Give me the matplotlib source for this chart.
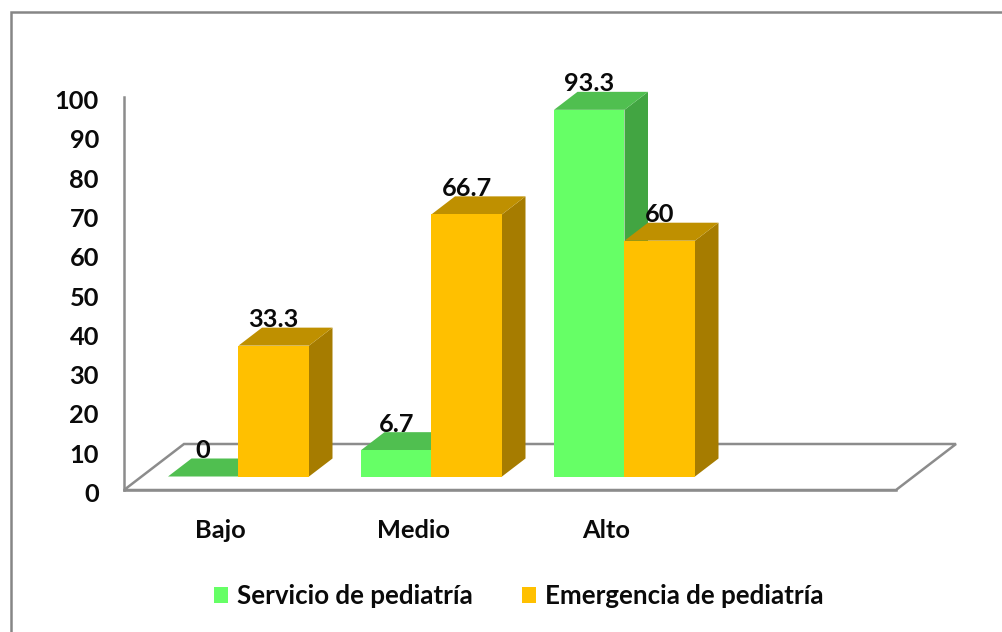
import matplotlib
matplotlib.use('Agg')
import matplotlib.pyplot as plt
from matplotlib.patches import Polygon, Rectangle
from matplotlib.transforms import ScaledTranslation

# Values
categories = ['Bajo', 'Medio', 'Alto', '']
servicio = [0, 6.7, 93.3]
emergencia = [33.3, 66.7, 60]
value_ticks = list(range(0, 101, 10))

plt.rcParams['font.family'] = ['Lato', 'DejaVu Sans']
plt.rcParams['font.weight'] = 'bold'

W, H = 1003, 632
fig = plt.figure(figsize=(W / 100, H / 100), dpi=100, facecolor='white')

# Axes box is the front of the Excel style 3D chart
left, right, top, bottom = 124, 896, 97, 490
ax = fig.add_axes([left / W, 1 - bottom / H, (right - left) / W, (bottom - top) / H])
ax.set_xlim(0, 4)
ax.set_ylim(0, 100)
ax.patch.set_alpha(0)

px_x = (right - left) / 4
px_y = (bottom - top) / 100

gray = '#8c8c8c'
text_col = '#0a0a0a'
fs = 18.3
for side in ['top', 'right']:
    ax.spines[side].set_visible(False)
for side in ['left', 'bottom']:
    ax.spines[side].set_color(gray)
    ax.spines[side].set_linewidth(1.8)

ax.set_xticks([0.5, 1.5, 2.5, 3.5])
ax.set_xticklabels(categories, fontsize=fs, fontweight='bold', color=text_col)
ax.set_yticks(value_ticks)
ax.set_yticklabels([str(v) for v in value_ticks], fontsize=fs, fontweight='bold', color=text_col)
ax.tick_params(axis='x', length=0, pad=21)
ax.tick_params(axis='y', length=0, pad=18)

# Value labels sit a little under their tick height in the reference
down = ScaledTranslation(0, -2.5 / 100, fig.dpi_scale_trans)
for lab in ax.get_yticklabels():
    lab.set_transform(lab.get_transform() + down)

# Floor of the 3D box
floor_dx, floor_dy = 60 / px_x, 46 / px_y
ax.add_patch(Polygon([(0, 0), (4, 0), (4 + floor_dx, floor_dy), (floor_dx, floor_dy)],
                     closed=True, facecolor='white', edgecolor=gray, linewidth=1.8,
                     clip_on=False, zorder=1))

# Bars sit inside the box, shifted from the front edge
shift_x, shift_y = 18 / px_x, 13.5 / px_y
depth_x, depth_y = 23.5 / px_x, 18 / px_y
bar_w = 70.5 / px_x


def bar3d(x0, value, front, top_col, side_col, z):
    x1 = x0 + bar_w
    y0 = shift_y
    y1 = shift_y + value
    ax.add_patch(Polygon([(x1, y0), (x1 + depth_x, y0 + depth_y), (x1 + depth_x, y1 + depth_y), (x1, y1)],
                         closed=True, facecolor=side_col, edgecolor='none', clip_on=False, zorder=z))
    ax.add_patch(Polygon([(x0, y1), (x1, y1), (x1 + depth_x, y1 + depth_y), (x0 + depth_x, y1 + depth_y)],
                         closed=True, facecolor=top_col, edgecolor='none', clip_on=False, zorder=z))
    ax.add_patch(Rectangle((x0, y0), bar_w, value, facecolor=front, edgecolor='none', clip_on=False, zorder=z + 0.1))
    ax.annotate(str(value), (x0 + bar_w / 2, y1), xytext=(0, 26), textcoords='offset pixels',
                ha='center', va='center', fontsize=fs, fontweight='bold', color=text_col,
                annotation_clip=False, zorder=10)


for i in range(3):
    center = i + 0.5 + shift_x
    bar3d(center - bar_w, servicio[i], '#66FF66', '#50BF50', '#42A542', 3)
for i in range(3):
    center = i + 0.5 + shift_x
    bar3d(center, emergencia[i], '#FFC000', '#BF9000', '#A67C00', 5)

# Legend
handles = [Rectangle((0, 0), 1, 1, facecolor='#66FF66'), Rectangle((0, 0), 1, 1, facecolor='#FFC000')]
leg = fig.legend(handles, ['Servicio de pediatría', 'Emergencia de pediatría'], ncol=2,
                 loc='center', bbox_to_anchor=(519 / W, 1 - 596 / H), frameon=False,
                 prop={'size': 18.6, 'weight': 'bold'}, handlelength=0.55, handleheight=0.62,
                 handletextpad=0.35, columnspacing=1.9, labelcolor=text_col)

# Outer chart border, right and bottom run off the picture
fig.add_artist(Rectangle((11 / W, -0.01), 1.02 - 11 / W, 1 - 12 / H + 0.01, transform=fig.transFigure,
                         facecolor='none', edgecolor='#868686', linewidth=1.8))

fig.savefig('out.png', dpi=100)
